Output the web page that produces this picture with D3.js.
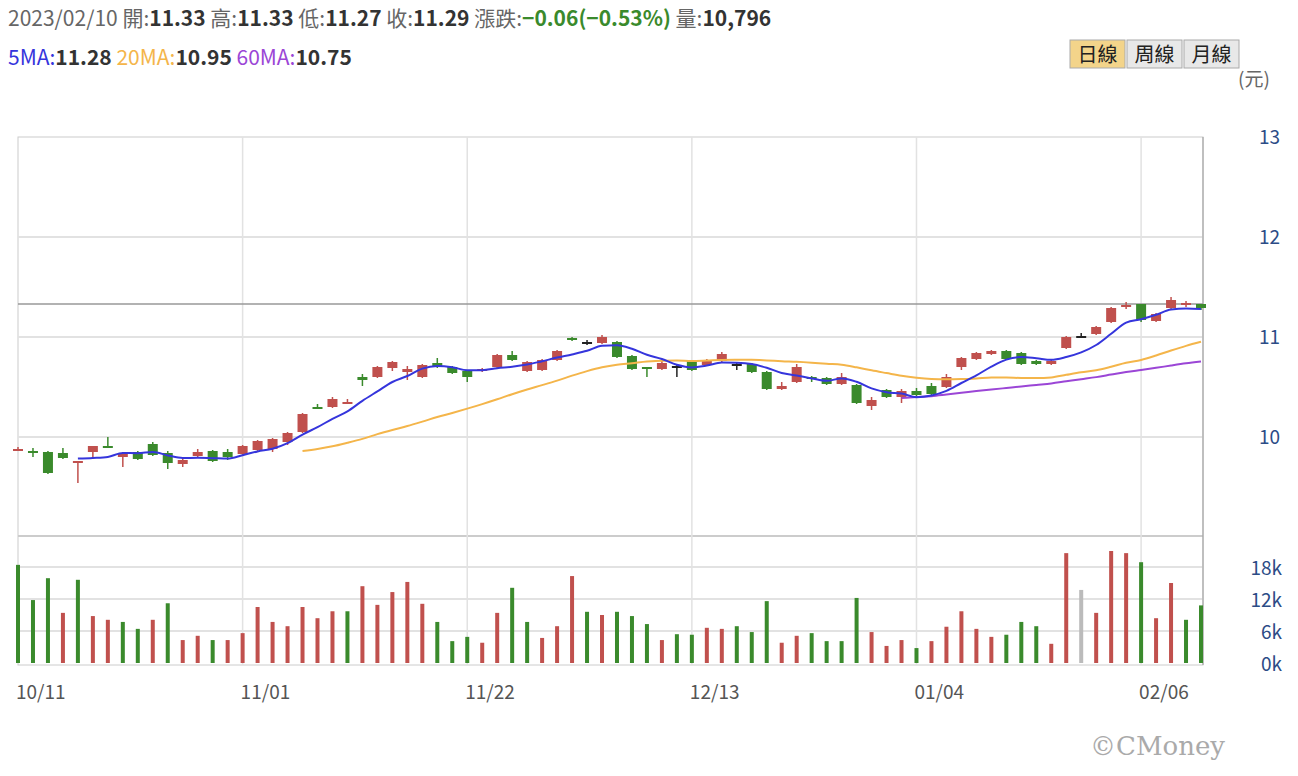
<!DOCTYPE html>
<html><head><meta charset="utf-8">
<script src="https://cdn.jsdelivr.net/npm/d3@7"></script>
<style>
body{margin:0;background:#fff;font-family:"Noto Sans CJK TC","Noto Sans",sans-serif;}
</style></head>
<body><svg id="chart" width="1298" height="776"></svg>
<script>
// trading days shown
const dates = ["10/11","10/12","10/13","10/14","10/17","10/18","10/19","10/20","10/21","10/24","10/25","10/26","10/27","10/28","10/31",
"11/01","11/02","11/03","11/04","11/07","11/08","11/09","11/10","11/11","11/14","11/15","11/16","11/17","11/18","11/21",
"11/22","11/23","11/24","11/25","11/28","11/29","11/30","12/01","12/02","12/05","12/06","12/07","12/08","12/09","12/12",
"12/13","12/14","12/15","12/16","12/19","12/20","12/21","12/22","12/23","12/26","12/27","12/28","12/29","12/30","01/03",
"01/04","01/05","01/06","01/09","01/10","01/11","01/12","01/13","01/16","01/17","01/30","01/31","02/01","02/02","02/03",
"02/06","02/07","02/08","02/09","02/10"];
const tickDates = ["10/11","11/01","11/22","12/13","01/04","02/06"];

const opens  = [9.87,9.86,9.85,9.84,9.74,9.85,9.91,9.80,9.85,9.93, 9.84,9.73,9.81,9.86,9.85,9.83,9.87,9.88,9.95,10.05,
10.30,10.30,10.34,10.60,10.60,10.69,10.65,10.60,10.74,10.70, 10.66,10.66,10.70,10.82,10.66,10.67,10.77,10.99,10.95,10.94,
10.95,10.81,10.70,10.68,10.71,10.76,10.72,10.76,10.73,10.73, 10.65,10.48,10.55,10.60,10.59,10.53,10.52,10.31,10.47,10.40,
10.46,10.51,10.50,10.70,10.78,10.83,10.86,10.84,10.76,10.73, 10.89,11.01,11.03,11.15,11.31,11.33,11.16,11.29,11.32,11.33];
const closes = [9.88,9.85,9.64,9.79,9.76,9.91,9.90,9.84,9.78,9.82, 9.74,9.77,9.85,9.76,9.80,9.91,9.96,9.98,10.04,10.23,
10.28,10.38,10.35,10.57,10.70,10.75,10.68,10.72,10.70,10.64, 10.60,10.68,10.82,10.77,10.75,10.77,10.86,10.98,10.95,11.00,
10.80,10.68,10.68,10.74,10.71,10.67,10.77,10.83,10.73,10.65, 10.48,10.51,10.70,10.59,10.53,10.60,10.34,10.37,10.40,10.46,
10.42,10.43,10.60,10.79,10.84,10.86,10.78,10.73,10.73,10.76, 11.00,11.01,11.10,11.29,11.32,11.17,11.23,11.37,11.34,11.29];
const highs  = [9.90,9.89,9.86,9.89,9.76,9.91,10.00,9.85,9.86,9.95, 9.86,9.78,9.88,9.87,9.88,9.92,9.97,9.99,10.05,10.24,
10.33,10.40,10.38,10.63,10.71,10.76,10.71,10.73,10.79,10.71, 10.67,10.69,10.83,10.86,10.76,10.78,10.87,11.00,10.97,11.02,
10.96,10.82,10.70,10.77,10.72,10.77,10.78,10.85,10.74,10.74, 10.66,10.55,10.73,10.61,10.60,10.64,10.53,10.40,10.48,10.48,
10.49,10.54,10.63,10.80,10.85,10.87,10.87,10.85,10.77,10.77, 11.01,11.04,11.11,11.30,11.35,11.33,11.24,11.40,11.36,11.33];
const lows   = [9.87,9.80,9.63,9.78,9.54,9.80,9.90,9.70,9.77,9.81, 9.68,9.70,9.80,9.75,9.77,9.82,9.86,9.85,9.92,10.04,
10.28,10.29,10.34,10.51,10.59,10.66,10.57,10.59,10.69,10.63, 10.55,10.65,10.69,10.76,10.65,10.66,10.76,10.96,10.92,10.93,
10.79,10.67,10.60,10.67,10.60,10.66,10.71,10.75,10.67,10.64, 10.47,10.47,10.54,10.55,10.52,10.52,10.33,10.27,10.39,10.34,
10.41,10.42,10.49,10.67,10.77,10.82,10.77,10.72,10.72,10.72, 10.88,11.00,11.02,11.14,11.28,11.15,11.15,11.28,11.30,11.27];
// volume in thousands of lots and its colour (u = up, d = down, n = flat)
const volumes = [18.4,11.8,15.9,9.4,15.6,8.8,8.1,7.7,6.4,8.1, 11.2,4.3,5.1,4.3,4.3,5.6,10.5,7.7,6.9,10.5,
8.4,9.7,9.7,14.4,10.9,13.3,15.2,11.1,7.7,4.1, 4.9,3.8,9.4,14.1,7.7,4.7,6.9,16.3,9.6,9.0,
9.6,8.8,7.3,4.3,5.4,5.3,6.6,6.4,6.9,5.8, 11.6,3.8,5.1,5.6,4.1,4.1,12.2,5.8,3.2,4.3,
2.8,4.1,6.8,9.7,6.4,4.9,5.3,7.7,6.9,3.6, 20.6,13.7,9.4,21,20.6,18.9,8.4,15,8.1,10.8];
const volDir = ["d","d","d","u","d","u","u","d","d","u", "d","u","u","d","u","u","u","u","u","u",
"u","u","d","u","u","u","u","u","d","d", "d","u","u","d","d","u","u","u","d","u",
"d","d","d","u","d","d","u","u","d","d", "d","u","u","d","d","d","d","u","u","u",
"d","u","u","u","u","u","d","d","d","u", "u","n","u","u","u","d","u","u","d","d"];
const priceTicks = [10, 11, 12, 13];
const volTicks = [0, 6, 12, 18];

const left = 18, right = 1203, pTop = 137, pBottom = 535, vBottom = 665;
const RED = "#c0504d", GREEN = "#3a8a2c", BLACK = "#222";
const svg = d3.select("#chart");

const x = d3.scaleLinear().domain([0, dates.length - 1]).range([18, 1201]);
const y = d3.scaleLinear().domain([9, 13]).range([pBottom + 2, pTop]);
const yv = d3.scaleLinear().domain([0, 18]).range([vBottom - 2, 567]);

// frame + grid
svg.append("rect").attr("x", left).attr("y", pTop).attr("width", right - left).attr("height", vBottom - pTop)
  .attr("fill", "none").attr("stroke", "#ccc");
svg.append("line").attr("x1", left).attr("x2", right).attr("y1", 536).attr("y2", 536).attr("stroke", "#ccc").attr("stroke-width", 2);
svg.selectAll(".pg").data(priceTicks.slice(0, 3)).enter().append("line")
  .attr("x1", left).attr("x2", right).attr("y1", d => y(d)).attr("y2", d => y(d)).attr("stroke", "#e2e2e2").attr("stroke-width", 2);
svg.selectAll(".vg").data(volTicks.slice(1)).enter().append("line")
  .attr("x1", left).attr("x2", right).attr("y1", d => yv(d)).attr("y2", d => yv(d)).attr("stroke", "#e2e2e2").attr("stroke-width", 2);
const tickIdx = tickDates.map(t => dates.indexOf(t));
svg.selectAll(".xg").data(tickIdx.slice(1)).enter().append("line")
  .attr("x1", d => x(d)).attr("x2", d => x(d)).attr("y1", pTop).attr("y2", vBottom).attr("stroke", "#e2e2e2").attr("stroke-width", 1.5);
svg.append("line").attr("x1", right).attr("x2", right).attr("y1", pTop).attr("y2", vBottom).attr("stroke", "#999");

// last price line
svg.append("line").attr("x1", left).attr("x2", right).attr("y1", y(11.33)).attr("y2", y(11.33)).attr("stroke", "#999").attr("stroke-width", 1.5);

// axis labels
svg.selectAll(".pt").data(priceTicks).enter().append("text")
  .attr("x", 1280).attr("y", d => y(d) + 7).attr("text-anchor", "end").attr("font-size", 19).attr("fill", "#2c4c86").text(d => d);
svg.selectAll(".vt").data(volTicks).enter().append("text")
  .attr("x", 1282).attr("y", d => yv(d) + 8).attr("text-anchor", "end").attr("font-size", 19).attr("fill", "#2c4c86").text(d => d + "k");
svg.selectAll(".dt").data(tickIdx).enter().append("text")
  .attr("x", d => x(d) - 2).attr("y", 699).attr("font-size", 19).attr("fill", "#555").text((d, i) => tickDates[i]);

// volume bars
const vCol = {u: RED, d: GREEN, n: "#bbb"};
svg.selectAll(".vb").data(volumes).enter().append("rect")
  .attr("x", (d, i) => x(i) - 2).attr("width", 4)
  .attr("y", d => yv(d)).attr("height", d => yv(0) - yv(d))
  .attr("fill", (d, i) => vCol[volDir[i]]);

// candles
const cCol = i => closes[i] > opens[i] ? RED : closes[i] < opens[i] ? GREEN : BLACK;
const idx = d3.range(dates.length);
svg.selectAll(".wick").data(idx).enter().append("line")
  .attr("x1", i => x(i)).attr("x2", i => x(i)).attr("y1", i => y(highs[i])).attr("y2", i => y(lows[i]))
  .attr("stroke", cCol).attr("stroke-width", 1.5);
svg.selectAll(".body").data(idx).enter().append("rect")
  .attr("x", i => x(i) - 5).attr("width", 10)
  .attr("y", i => y(Math.max(opens[i], closes[i])))
  .attr("height", i => Math.max(2, Math.abs(y(opens[i]) - y(closes[i]))))
  .attr("fill", cCol);

// moving averages
function ma(n) {
  return idx.map(i => i < n - 1 ? null : d3.mean(closes.slice(i - n + 1, i + 1)));
}
const line = d3.line().defined(d => d != null).x((d, i) => x(i)).y(d => y(d)).curve(d3.curveMonotoneX);
[[60, "#9b46d6"], [20, "#f4b54a"], [5, "#3535dc"]].forEach(([n, c]) => {
  svg.append("path").datum(ma(n)).attr("d", line).attr("fill", "none").attr("stroke", c).attr("stroke-width", 2);
});

// header
const h1 = svg.append("text").attr("x", 8).attr("y", 26).attr("font-size", 21).attr("fill", "#666");
const parts = [["2023/02/10 ", "#666", 400], ["開:", "#666", 400], ["11.33", "#333", 700], [" 高:", "#666", 400], ["11.33", "#333", 700],
  [" 低:", "#666", 400], ["11.27", "#333", 700], [" 收:", "#666", 400], ["11.29", "#333", 700], [" 漲跌:", "#666", 400],
  ["−0.06(−0.53%)", "#3a8a2c", 700], [" 量:", "#666", 400], ["10,796", "#333", 700]];
parts.forEach(p => h1.append("tspan").attr("fill", p[1]).attr("font-weight", p[2]).text(p[0]));
const h2 = svg.append("text").attr("x", 8).attr("y", 65).attr("font-size", 21);
[["5MA:", "#3535dc", 400], ["11.28", "#333", 700], [" 20MA:", "#f4b54a", 400], ["10.95", "#333", 700],
 [" 60MA:", "#9b46d6", 400], ["10.75", "#333", 700]].forEach(p => h2.append("tspan").attr("fill", p[1]).attr("font-weight", p[2]).text(p[0]));

// period buttons
["日線", "周線", "月線"].forEach((t, i) => {
  const bx = 1070 + i * 57;
  svg.append("rect").attr("x", bx).attr("y", 40).attr("width", 55).attr("height", 28)
    .attr("fill", i == 0 ? "#f3d48a" : "#e8e8e8").attr("stroke", "#aaa");
  svg.append("text").attr("x", bx + 27.5).attr("y", 62).attr("text-anchor", "middle").attr("font-size", 20).attr("fill", "#222").text(t);
});
svg.append("text").attr("x", 1238).attr("y", 86).attr("font-size", 19).attr("fill", "#666").text("(元)");
svg.append("text").attr("x", 1225).attr("y", 755).attr("text-anchor", "end").attr("font-size", 26)
  .attr("font-family", "DejaVu Serif, serif").attr("fill", "#aaa").text("©CMoney");
</script></body></html>
